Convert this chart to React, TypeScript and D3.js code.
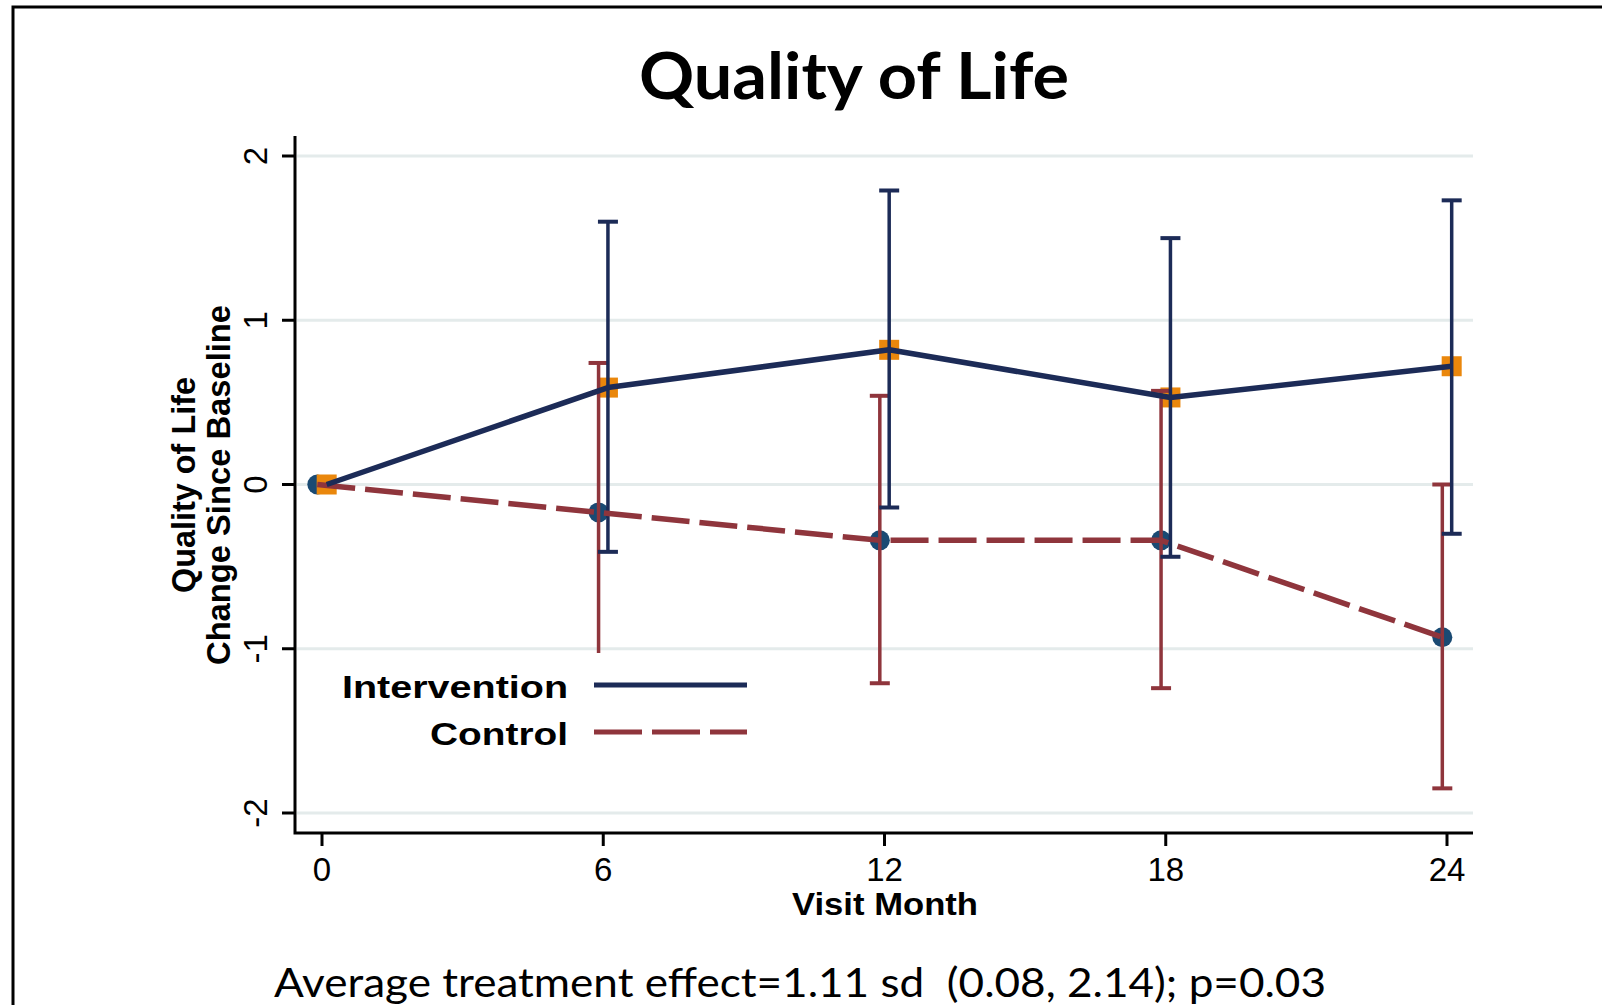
import { useEffect, useRef } from "react";
import * as d3 from "d3";

// values
const months = [0, 6, 12, 18, 24];
const interventionMean = [0, 0.59, 0.82, 0.53, 0.72];
const interventionLow = [null, -0.41, -0.14, -0.44, -0.3];
const interventionHigh = [null, 1.6, 1.79, 1.5, 1.73];
const controlMean = [0, -0.17, -0.34, -0.34, -0.93];
const controlLow = [null, -1.05, -1.21, -1.24, -1.85];
const controlHigh = [null, 0.74, 0.54, 0.57, 0.0];
const xTicks = [0, 6, 12, 18, 24];
const yTicks = [-2, -1, 0, 1, 2];
const legendLabels = ["Intervention", "Control"];

const W = 1602,
  H = 1005;

const navyLine = "#1c2b57";
const maroon = "#8f353c";
const circleFill = "#1a4a73";
const squareFill = "#ea870c";
const gridColor = "#e4ebeb";

export default function App() {
  const ref = useRef<SVGSVGElement>(null);

  useEffect(() => {
    const svg = d3.select(ref.current);
    svg.selectAll("*").remove();

    const plotLeft = 295,
      plotRight = 1473,
      plotTop = 136,
      plotBottom = 833;

    const x = d3.scaleLinear().domain([0, 24]).range([322, 1447]);
    const y = d3.scaleLinear().domain([-2, 2]).range([813, 156]);
    const off = 0.1; // stata-style horizontal offset between groups

    // frame
    svg.append("path")
      .attr("d", "M13," + H + " V7 H" + W)
      .attr("fill", "none")
      .attr("stroke", "#000")
      .attr("stroke-width", 3);

    // title
    svg.append("text")
      .attr("x", 854)
      .attr("y", 99)
      .attr("text-anchor", "middle")
      .attr("font-family", "Lato")
      .attr("font-weight", 700)
      .attr("font-size", 65)
      .attr("textLength", 430)
      .attr("lengthAdjust", "spacingAndGlyphs")
      .text("Quality of Life");

    // gridlines
    svg.append("g")
      .selectAll("line")
      .data(yTicks)
      .enter()
      .append("line")
      .attr("x1", plotLeft + 2)
      .attr("x2", plotRight)
      .attr("y1", (d) => y(d))
      .attr("y2", (d) => y(d))
      .attr("stroke", gridColor)
      .attr("stroke-width", 3);

    // axes
    svg.append("path")
      .attr("d", "M" + plotLeft + "," + plotTop + " V" + plotBottom + " H" + plotRight)
      .attr("fill", "none")
      .attr("stroke", "#000")
      .attr("stroke-width", 3);

    svg.append("g")
      .selectAll("line")
      .data(yTicks)
      .enter()
      .append("line")
      .attr("x1", plotLeft - 13)
      .attr("x2", plotLeft)
      .attr("y1", (d) => y(d))
      .attr("y2", (d) => y(d))
      .attr("stroke", "#000")
      .attr("stroke-width", 3);

    svg.append("g")
      .selectAll("text")
      .data(yTicks)
      .enter()
      .append("text")
      .attr("transform", (d) => "translate(267," + y(d) + ") rotate(-90)")
      .attr("text-anchor", "middle")
      .attr("font-family", "Liberation Sans")
      .attr("font-size", 33)
      .text((d) => String(d));

    svg.append("g")
      .selectAll("line")
      .data(xTicks)
      .enter()
      .append("line")
      .attr("x1", (d) => x(d))
      .attr("x2", (d) => x(d))
      .attr("y1", plotBottom)
      .attr("y2", plotBottom + 13)
      .attr("stroke", "#000")
      .attr("stroke-width", 3);

    svg.append("g")
      .selectAll("text")
      .data(xTicks)
      .enter()
      .append("text")
      .attr("x", (d) => x(d))
      .attr("y", 881)
      .attr("text-anchor", "middle")
      .attr("font-family", "Liberation Sans")
      .attr("font-size", 33)
      .text((d) => String(d));

    svg.append("text")
      .attr("x", 885)
      .attr("y", 915)
      .attr("text-anchor", "middle")
      .attr("font-family", "Liberation Sans")
      .attr("font-weight", 700)
      .attr("font-size", 32)
      .attr("textLength", 186)
      .attr("lengthAdjust", "spacingAndGlyphs")
      .text("Visit Month");

    // y title, two lines
    const yTitle = [
      { t: "Quality of Life", bx: 195, len: 216 },
      { t: "Change Since Baseline", bx: 230, len: 360 },
    ];
    svg.append("g")
      .selectAll("text")
      .data(yTitle)
      .enter()
      .append("text")
      .attr("transform", (d) => "translate(" + d.bx + ",485) rotate(-90)")
      .attr("text-anchor", "middle")
      .attr("font-family", "Liberation Sans")
      .attr("font-weight", 700)
      .attr("font-size", 33)
      .attr("textLength", (d) => d.len)
      .attr("lengthAdjust", "spacingAndGlyphs")
      .text((d) => d.t);

    const idx = d3.range(months.length);

    // markers: control circles, intervention squares
    svg.append("g")
      .selectAll("circle")
      .data(idx)
      .enter()
      .append("circle")
      .attr("cx", (i) => x(months[i] - off))
      .attr("cy", (i) => y(controlMean[i]))
      .attr("r", 10)
      .attr("fill", circleFill);

    svg.append("g")
      .selectAll("rect")
      .data(idx)
      .enter()
      .append("rect")
      .attr("x", (i) => x(months[i] + off) - 10)
      .attr("y", (i) => y(interventionMean[i]) - 10)
      .attr("width", 20)
      .attr("height", 20)
      .attr("fill", squareFill);

    // error bars
    function errorBars(low, high, shift, color) {
      const withCi = idx.filter((i) => low[i] != null);
      const g = svg.append("g").attr("stroke", color).attr("fill", "none");
      g.selectAll("line.bar")
        .data(withCi)
        .enter()
        .append("line")
        .attr("x1", (i) => x(months[i] + shift))
        .attr("x2", (i) => x(months[i] + shift))
        .attr("y1", (i) => y(low[i]))
        .attr("y2", (i) => y(high[i]))
        .attr("stroke-width", 3.5);
      [low, high].forEach((arr) => {
        g.selectAll(null)
          .data(withCi)
          .enter()
          .append("line")
          .attr("x1", (i) => x(months[i] + shift) - 10)
          .attr("x2", (i) => x(months[i] + shift) + 10)
          .attr("y1", (i) => y(arr[i]))
          .attr("y2", (i) => y(arr[i]))
          .attr("stroke-width", 4);
      });
    }
    errorBars(controlLow, controlHigh, -off, maroon);
    errorBars(interventionLow, interventionHigh, off, navyLine);

    // lines
    const controlLine = d3.line<number>()
      .x((i) => x(months[i] - off))
      .y((i) => y(controlMean[i]));
    const interventionLine = d3.line<number>()
      .x((i) => x(months[i] + off))
      .y((i) => y(interventionMean[i]));

    svg.append("path")
      .attr("d", controlLine(idx))
      .attr("fill", "none")
      .attr("stroke", maroon)
      .attr("stroke-width", 5.5)
      .attr("stroke-dasharray", "38 10");

    svg.append("path")
      .attr("d", interventionLine(idx))
      .attr("fill", "none")
      .attr("stroke", navyLine)
      .attr("stroke-width", 5.5)
      .attr("stroke-linejoin", "round");

    // legend (white box hides what is behind it)
    const legend = svg.append("g");
    legend.append("rect")
      .attr("x", 322)
      .attr("y", 653)
      .attr("width", 440)
      .attr("height", 105)
      .attr("fill", "#fff");

    const legendRows = [
      { label: legendLabels[0], color: navyLine, dash: null, ty: 698, ly: 685, len: 226 },
      { label: legendLabels[1], color: maroon, dash: "48 10", ty: 745, ly: 732, len: 138 },
    ];
    legend.selectAll("text")
      .data(legendRows)
      .enter()
      .append("text")
      .attr("x", 568)
      .attr("y", (d) => d.ty)
      .attr("text-anchor", "end")
      .attr("font-family", "Liberation Sans")
      .attr("font-weight", 700)
      .attr("font-size", 32)
      .attr("textLength", (d) => d.len)
      .attr("lengthAdjust", "spacingAndGlyphs")
      .text((d) => d.label);
    legend.selectAll("line")
      .data(legendRows)
      .enter()
      .append("line")
      .attr("x1", 594)
      .attr("x2", 747)
      .attr("y1", (d) => d.ly)
      .attr("y2", (d) => d.ly)
      .attr("stroke", (d) => d.color)
      .attr("stroke-width", 5)
      .attr("stroke-dasharray", (d) => d.dash);

    // footnote
    svg.append("text")
      .attr("x", 274)
      .attr("y", 997)
      .attr("font-family", "Lato")
      .attr("font-size", 41)
      .attr("textLength", 1052)
      .attr("lengthAdjust", "spacingAndGlyphs")
      .style("white-space", "pre")
      .text("Average treatment effect=1.11 sd  (0.08, 2.14); p=0.03");
  }, []);

  return (
    <svg
      ref={ref}
      width={W}
      height={H}
      style={{ position: "absolute", left: 0, top: 0, background: "#fff" }}
    />
  );
}
